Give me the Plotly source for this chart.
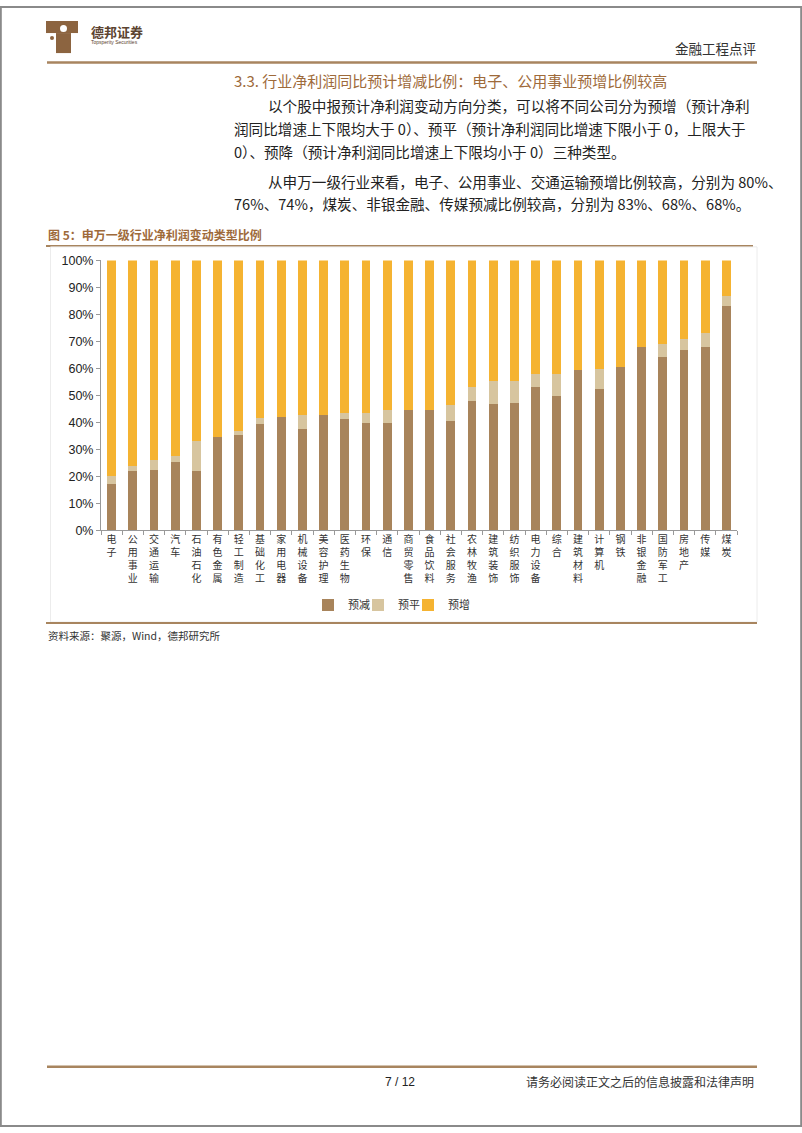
import plotly.graph_objects as go

W, H = 802, 1133

categories = ["电子", "公用事业", "交通运输", "汽车", "石油石化", "有色金属", "轻工制造", "基础化工",
              "家用电器", "机械设备", "美容护理", "医药生物", "环保", "通信", "商贸零售", "食品饮料",
              "社会服务", "农林牧渔", "建筑装饰", "纺织服饰", "电力设备", "综合", "建筑材料", "计算机",
              "钢铁", "非银金融", "国防军工", "房地产", "传媒", "煤炭"]
pre_decrease = [17.3, 22.0, 22.3, 25.3, 22.0, 34.7, 35.3, 39.3, 42.0, 37.4, 42.7, 41.1, 39.9, 39.9, 44.6,
                44.6, 40.5, 48.0, 46.7, 47.2, 53.0, 49.9, 59.4, 52.3, 60.6, 68.0, 64.1, 67.0, 68.0, 83.0]
pre_flat = [2.7, 2.0, 3.7, 2.1, 11.2, 0.0, 1.5, 2.3, 0.0, 5.3, 0.0, 2.4, 3.7, 4.7, 0.0,
            0.0, 6.0, 5.2, 8.5, 8.1, 4.8, 8.0, 0.0, 7.5, 0.0, 0.0, 4.9, 4.0, 5.0, 4.0]
pre_increase = [80.0, 76.0, 74.0, 72.6, 66.8, 65.3, 63.2, 58.4, 58.0, 57.3, 57.3, 56.5, 56.4, 55.4, 55.4,
                55.4, 53.5, 46.8, 44.8, 44.7, 42.2, 42.1, 40.6, 40.2, 39.4, 32.0, 31.0, 29.0, 27.0, 13.0]
series_names = ["预减", "预平", "预增"]
series_colors = ["#a8845b", "#d7c59f", "#f5b331"]
y_ticks = [0, 10, 20, 30, 40, 50, 60, 70, 80, 90, 100]

BROWN = "#a8855f"
TITLE_BROWN = "#9e6a3a"
CJK = "Noto Sans CJK SC"
LAT = "Liberation Sans, Noto Sans CJK SC"

# calibration of the rendered page (measured: observed_y ~= 0.986 * y + 7)
VS, VO = 0.986, 7.0


def X(px):
    return px / W


def Y(py):
    return 1 - ((py - VO) / VS) / H


legend_keys = ["legend", "legend2", "legend3"]
legend_text_x = [348, 398, 448]

fig = go.Figure()
for name, vals, col, lk in zip(series_names, [pre_decrease, pre_flat, pre_increase], series_colors, legend_keys):
    fig.add_trace(go.Bar(x=categories, y=vals, name=name, legend=lk,
                         marker=dict(color=col, line=dict(width=0))))

ticktext = ["<br>".join(list(c)) for c in categories]

legend_style = dict(orientation="h", xanchor="left", y=Y(604), yanchor="middle",
                    font=dict(family=CJK, size=11, color="#333"), itemwidth=30,
                    bgcolor="rgba(0,0,0,0)", borderwidth=0)
fig.update_layout(
    width=W, height=H,
    margin=dict(l=0, r=0, t=0, b=0),
    paper_bgcolor="white", plot_bgcolor="white",
    barmode="stack", bargap=0.59,
    showlegend=True,
    legend=dict(x=X(legend_text_x[0] - 40), **legend_style),
    legend2=dict(x=X(legend_text_x[1] - 40), **legend_style),
    legend3=dict(x=X(legend_text_x[2] - 40), **legend_style),
    xaxis=dict(domain=[X(101), X(737)], type="category", tickvals=categories, ticktext=ticktext,
               tickfont=dict(family=CJK, size=10, color="#333"), tickangle=0,
               showline=True, linecolor="#999", linewidth=1,
               ticks="outside", ticklen=4, tickcolor="#999", tickson="boundaries",
               showgrid=False, fixedrange=True),
    yaxis=dict(domain=[Y(529.5), Y(260)], range=[0, 100], tickvals=y_ticks,
               ticktext=[f"{v}%" for v in y_ticks],
               tickfont=dict(family=LAT, size=12.5, color="#222"),
               showline=True, linecolor="#999", linewidth=1,
               ticks="outside", ticklen=4, tickcolor="#999",
               showgrid=False, zeroline=False, fixedrange=True),
)

shapes = []
# page border
shapes.append(dict(type="rect", xref="paper", yref="paper", x0=0.001, x1=0.999, y0=0.0, y1=1.0,
                   line=dict(color="#8a8a8a", width=2)))
# header line
shapes.append(dict(type="line", xref="paper", yref="paper", x0=X(47), x1=X(757), y0=Y(62.5), y1=Y(62.5),
                   line=dict(color=BROWN, width=2.5)))
# figure title line
shapes.append(dict(type="line", xref="paper", yref="paper", x0=X(46), x1=X(753), y0=Y(245.5), y1=Y(245.5),
                   line=dict(color=BROWN, width=2)))
# faint chart box
shapes.append(dict(type="rect", xref="paper", yref="paper", x0=X(50.5), x1=X(757), y0=Y(621), y1=Y(246.5),
                   line=dict(color="#ececec", width=1)))
# chart bottom line
shapes.append(dict(type="line", xref="paper", yref="paper", x0=X(46), x1=X(757), y0=Y(622), y1=Y(622),
                   line=dict(color=BROWN, width=2)))
# footer line
shapes.append(dict(type="line", xref="paper", yref="paper", x0=X(47), x1=X(757), y0=Y(1065), y1=Y(1065),
                   line=dict(color=BROWN, width=2.5)))
# logo (simplified T-shaped mark)
LOGO = "#8c6440"
shapes.append(dict(type="rect", xref="paper", yref="paper", x0=X(46), x1=X(78), y0=Y(33), y1=Y(21),
                   fillcolor=LOGO, line=dict(width=0)))
shapes.append(dict(type="rect", xref="paper", yref="paper", x0=X(56), x1=X(71), y0=Y(53), y1=Y(33),
                   fillcolor=LOGO, line=dict(width=0)))
shapes.append(dict(type="circle", xref="paper", yref="paper", x0=X(50), x1=X(54), y0=Y(40), y1=Y(36),
                   fillcolor=LOGO, line=dict(width=0)))
shapes.append(dict(type="circle", xref="paper", yref="paper", x0=X(60), x1=X(67), y0=Y(32), y1=Y(25),
                   fillcolor="white", line=dict(width=0)))
fig.update_layout(shapes=shapes)

ann = []


def text(x, y, s, size, color="#222", anchor="left", family=CJK, bold=False):
    if bold:
        s = f"<b>{s}</b>"
    ann.append(dict(xref="paper", yref="paper", x=X(x), y=Y(y), xanchor=anchor, yanchor="middle",
                    text=s, showarrow=False, font=dict(family=family, size=size, color=color),
                    borderpad=0))


text(90, 31, "德邦证券", 13, "#5b4330", bold=True)
text(90, 42, "Topsperity Securities", 5, "#5b4330", family=LAT)
text(757, 48, "金融工程点评", 13.5, "#333", anchor="right")
text(233, 80, "3.3. 行业净利润同比预计增减比例：电子、公用事业预增比例较高", 15, TITLE_BROWN)
text(267, 105, "以个股中报预计净利润变动方向分类，可以将不同公司分为预增（预计净利", 14.6)
text(233, 128, "润同比增速上下限均大于 0）、预平（预计净利润同比增速下限小于 0，上限大于", 14.6)
text(233, 151, "0）、预降（预计净利润同比增速上下限均小于 0）三种类型。", 14.6)
text(267, 181, "从申万一级行业来看，电子、公用事业、交通运输预增比例较高，分别为 80%、", 14.6)
text(233, 203, "76%、74%，煤炭、非银金融、传媒预减比例较高，分别为 83%、68%、68%。", 14.6)
text(47, 234, "图 5：申万一级行业净利润变动类型比例", 12, TITLE_BROWN, bold=True)
text(47, 634, "资料来源：聚源，Wind，德邦研究所", 10.5, "#333")
text(400, 1080, "7 / 12", 12, "#222", anchor="center", family=LAT)
text(755, 1080, "请务必阅读正文之后的信息披露和法律声明", 12, "#333", anchor="right")
fig.update_layout(annotations=ann)

fig.write_html("out.html", config={"displayModeBar": False},
               post_script="document.body.style.margin='0px';document.body.style.overflow='hidden';")
